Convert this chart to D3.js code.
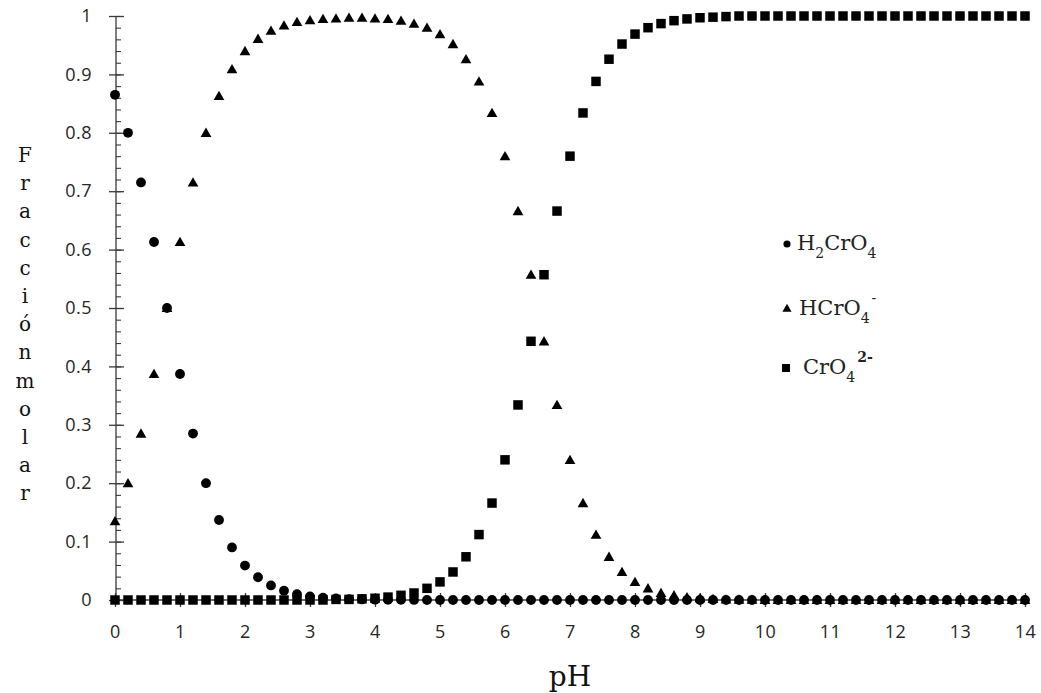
<!DOCTYPE html>
<html>
<head>
<meta charset="utf-8">
<script src="https://cdn.jsdelivr.net/npm/d3@7"></script>
<style>
  html, body { margin: 0; padding: 0; background: #fff; }
  svg { display: block; }
</style>
</head>
<body>
<svg id="chart" width="1041" height="693"></svg>
<script>
// ---------- data ----------
const pH = d3.range(0, 71).map(i => +(i * 0.2).toFixed(1));

const h2cro4 = [
  0.865, 0.800, 0.715, 0.613, 0.500, 0.387, 0.285, 0.200, 0.137, 0.090,
  0.059, 0.039, 0.025, 0.016, 0.010, 0.006, 0.004, 0.0025, 0.0016, 0.001,
  0.0006, 0.0004, 0.0002, 0.0001, 0, 0, 0, 0, 0, 0,
  0, 0, 0, 0, 0, 0, 0, 0, 0, 0,
  0, 0, 0, 0, 0, 0, 0, 0, 0, 0,
  0, 0, 0, 0, 0, 0, 0, 0, 0, 0,
  0, 0, 0, 0, 0, 0, 0, 0, 0, 0,
  0
];

const hcro4 = [
  0.135, 0.200, 0.285, 0.387, 0.500, 0.613, 0.715, 0.800, 0.863, 0.909,
  0.940, 0.961, 0.975, 0.984, 0.990, 0.993, 0.995, 0.996, 0.997, 0.997,
  0.996, 0.995, 0.992, 0.987, 0.980, 0.969, 0.952, 0.926, 0.888, 0.834,
  0.760, 0.666, 0.557, 0.443, 0.334, 0.240, 0.166, 0.112, 0.074, 0.048,
  0.031, 0.020, 0.012, 0.008, 0.005, 0.003, 0.002, 0.001, 0.0008, 0.0005,
  0.0003, 0, 0, 0, 0, 0, 0, 0, 0, 0,
  0, 0, 0, 0, 0, 0, 0, 0, 0, 0,
  0
];

const cro4 = [
  0, 0, 0, 0, 0, 0, 0, 0, 0, 0,
  0, 0, 0, 0, 0, 0, 0, 0.001, 0.001, 0.002,
  0.003, 0.005, 0.008, 0.012, 0.020, 0.031, 0.048, 0.074, 0.112, 0.166,
  0.240, 0.334, 0.443, 0.557, 0.666, 0.760, 0.834, 0.888, 0.926, 0.952,
  0.969, 0.980, 0.987, 0.992, 0.995, 0.997, 0.998, 0.999, 1, 1,
  1, 1, 1, 1, 1, 1, 1, 1, 1, 1,
  1, 1, 1, 1, 1, 1, 1, 1, 1, 1,
  1
];

const xTicks = [0, 1, 2, 3, 4, 5, 6, 7, 8, 9, 10, 11, 12, 13, 14];
const yTicks = [0, 0.1, 0.2, 0.3, 0.4, 0.5, 0.6, 0.7, 0.8, 0.9, 1];
const yTickLabels = ["0", "0.1", "0.2", "0.3", "0.4", "0.5", "0.6", "0.7", "0.8", "0.9", "1"];
const yMinorTicks = d3.range(0, 51).map(i => +(i * 0.02).toFixed(2));

const yTitleLetters = ["F", "r", "a", "c", "c", "i", "ó", "n", "m", "o", "l", "a", "r"];
const xTitle = "pH";

// legend labels: [text, kind] kind: n normal, sub, sup
const legendItems = [
  { symbol: "circle",   parts: [["H", "n"], ["2", "sub"], ["CrO", "n"], ["4", "sub"]] },
  { symbol: "triangle", parts: [["HCrO", "n"], ["4", "sub"], ["-", "sup"]] },
  { symbol: "square",   parts: [["CrO", "n"], ["4", "sub"], ["2-", "sup"]] }
];

// ---------- layout ----------
const svg = d3.select("#chart");
const x = d3.scaleLinear().domain([0, 14]).range([115, 1025]);
const y = d3.scaleLinear().domain([0, 1]).range([600, 16]);
const axisColor = "#3a3a3a";
const labelColor = "#262626";

// ---------- axes ----------
const yAxisG = svg.append("g").attr("transform", `translate(${x(0) + 1},0)`);
yAxisG.append("line")
  .attr("x1", 0).attr("x2", 0).attr("y1", y(1)).attr("y2", y(0))
  .attr("stroke", axisColor).attr("stroke-width", 1.3);
yAxisG.append("g").call(
  d3.axisRight(y).tickValues(yMinorTicks).tickSize(5).tickFormat("")
).call(g => g.select(".domain").remove())
 .selectAll("line").attr("stroke", axisColor).attr("stroke-width", 1.1);
const yMajor = yAxisG.append("g").call(
  d3.axisLeft(y).tickValues(yTicks).tickSize(7).tickPadding(17)
    .tickFormat((d, i) => yTickLabels[i])
);
yMajor.select(".domain").remove();
yMajor.selectAll("line").attr("x1", 8).attr("stroke", axisColor).attr("stroke-width", 1.3);
yMajor.selectAll("text")
  .attr("fill", labelColor)
  .style("font-family", "'Open Sans', sans-serif")
  .style("font-size", "18px")
  .style("letter-spacing", "0.5px");

const xAxisG = svg.append("g").attr("transform", `translate(0,${y(0)})`);
const xMajor = xAxisG.append("g").call(
  d3.axisBottom(x).tickValues(xTicks).tickSize(7).tickFormat(d3.format("d"))
);
xMajor.select(".domain").remove();
xMajor.selectAll("line").attr("y1", -7).attr("stroke", axisColor).attr("stroke-width", 1.3);
xMajor.selectAll("text")
  .attr("y", 38).attr("dy", "0")
  .attr("fill", labelColor)
  .style("font-family", "'Open Sans', sans-serif")
  .style("font-size", "18px")
  .style("letter-spacing", "0.5px");

// ---------- markers ----------
const sym = {
  circle: d3.symbol().type(d3.symbolCircle).size(76),
  triangle: d3.symbol().type(d3.symbolTriangle).size(50),
  square: d3.symbol().type(d3.symbolSquare).size(90)
};

function drawSeries(values, kind) {
  svg.append("g").selectAll("path")
    .data(values.map((v, i) => ({ x: pH[i], y: v })))
    .join("path")
    .attr("d", sym[kind])
    .attr("transform", d => `translate(${x(d.x)},${y(d.y) + (kind === "triangle" ? 1 : 0)})`)
    .attr("fill", "#000");
}
drawSeries(cro4, "square");
drawSeries(hcro4, "triangle");
drawSeries(h2cro4, "circle");

xAxisG.append("line")
  .attr("x1", x(0)).attr("x2", x(14) + 3).attr("y1", 0).attr("y2", 0)
  .attr("stroke", axisColor).attr("stroke-width", 1.3);

// ---------- titles ----------
svg.append("g").selectAll("text")
  .data(yTitleLetters)
  .join("text")
  .attr("x", 25)
  .attr("y", (d, i) => 162 + i * 28.2)
  .attr("text-anchor", "middle")
  .style("font-family", "'DejaVu Serif', serif")
  .style("font-size", "20px")
  .attr("fill", "#111")
  .text(d => d);

svg.append("text")
  .attr("x", 570).attr("y", 686)
  .attr("text-anchor", "middle")
  .style("font-family", "'DejaVu Serif', serif")
  .style("font-size", "28px")
  .attr("fill", "#111")
  .text(xTitle);

// ---------- legend ----------
const legendY = [244, 309, 368];
const legendSym = {
  circle: d3.symbol().type(d3.symbolCircle).size(40),
  triangle: d3.symbol().type(d3.symbolTriangle).size(36),
  square: d3.symbol().type(d3.symbolSquare).size(64)
};
const legendTextX = [797, 799, 803];
legendItems.forEach((item, k) => {
  const g = svg.append("g");
  g.append("path")
    .attr("d", legendSym[item.symbol])
    .attr("transform", `translate(${item.symbol === "square" ? 786 : 787},${legendY[k]})`)
    .attr("fill", "#000");
  const t = g.append("text")
    .attr("x", legendTextX[k]).attr("y", legendY[k] + 6)
    .style("font-family", "'DejaVu Serif', serif")
    .style("font-size", "21px")
    .attr("fill", "#222");
  let shift = 0;
  item.parts.forEach(([s, kind]) => {
    const target = kind === "sub" ? 8 : kind === "sup" ? -12 : 0;
    const ts = t.append("tspan")
      .attr("dy", target - shift)
      .style("font-size", kind === "n" ? "21px" : "14px")
      .text(s);
    if (kind === "sup") ts.attr("dx", 2).style("font-weight", s === "2-" ? "bold" : null);
    shift = target;
  });
});
</script>
</body>
</html>
